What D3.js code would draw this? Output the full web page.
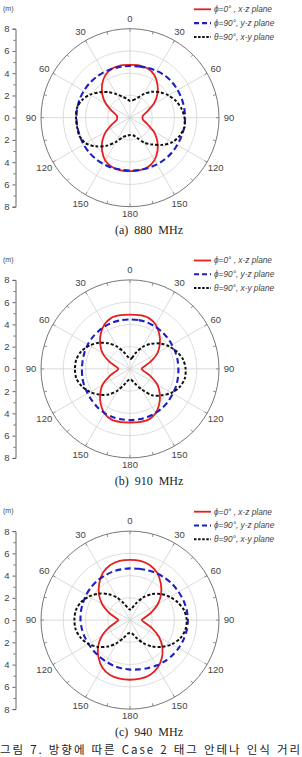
<!DOCTYPE html>
<html lang="ko">
<head>
<meta charset="UTF-8">
<title>방향에 따른 인식 거리</title>
<script src="https://cdn.jsdelivr.net/npm/d3@7"></script>
<style>
  body{margin:0;background:#fff;}
  svg{display:block;}
  .lbl{font-family:"Liberation Sans",Arial,sans-serif;fill:#444;}
  .axis .domain{stroke:#666;}
  .axis line{stroke:#666;}
  .axis text{font-family:"Liberation Sans",Arial,sans-serif;fill:#444;font-size:9.5px;}
</style>
</head>
<body>
<svg width="302" height="757"></svg>
<script>
// angle in degrees, 0 at top, clockwise
var angles = d3.range(0, 360, 10);

// reading distance (m)
var red880   = [4.75,4.78,4.7,4.4,3.85,3.2,2.45,1.65,1.2,1.12,1.2,1.65,2.45,3.2,3.85,4.4,4.72,4.8,
                4.8,4.8,4.72,4.45,3.9,3.25,2.5,1.7,1.22,1.15,1.22,1.7,2.5,3.25,3.9,4.42,4.7,4.78];
var blue880  = [4.65,4.68,4.75,4.85,4.92,4.95,4.95,4.95,4.95,4.95,4.95,4.92,4.9,4.9,4.88,4.85,4.8,4.78,
                4.75,4.75,4.78,4.8,4.82,4.82,4.82,4.8,4.8,4.82,4.82,4.82,4.8,4.78,4.75,4.72,4.68,4.65];
var black880 = [1.5,1.6,1.87,2.45,3.05,3.55,4.0,4.4,4.7,4.9,4.97,4.75,4.4,3.8,3.15,2.6,1.95,1.6,
                1.56,1.65,1.85,2.5,3.3,4.0,4.6,4.83,4.83,4.85,4.85,4.6,4.15,3.55,3.0,2.45,2.0,1.75];

var red910   = [4.88,4.9,4.88,4.6,4.1,3.5,2.85,2.0,1.3,1.05,1.3,2.0,2.85,3.5,4.1,4.6,4.85,4.85,
                4.82,4.85,4.85,4.6,4.1,3.5,2.85,2.0,1.3,1.05,1.3,2.0,2.85,3.5,4.1,4.6,4.88,4.9];
var blue910  = [4.45,4.45,4.45,4.42,4.4,4.38,4.35,4.35,4.35,4.35,4.38,4.42,4.45,4.5,4.55,4.58,4.6,4.6,
                4.6,4.6,4.6,4.58,4.52,4.45,4.4,4.38,4.35,4.32,4.32,4.35,4.38,4.4,4.42,4.45,4.45,4.45];
var black910 = [0.9,1.0,1.55,2.3,2.95,3.55,4.05,4.5,4.85,5.0,5.0,4.75,4.3,3.7,3.1,2.15,1.45,1.05,
                0.95,1.05,1.5,2.25,3.0,3.6,4.15,4.6,4.9,4.95,4.9,4.65,4.2,3.65,3.0,2.3,1.6,1.1];

var red940   = [5.42,5.4,5.25,4.9,4.3,3.65,2.9,2.05,1.35,1.05,1.35,2.1,3.0,3.8,4.45,4.95,5.25,5.35,
                5.36,5.35,5.25,4.95,4.4,3.75,2.95,2.05,1.35,1.05,1.35,2.05,2.9,3.65,4.3,4.9,5.25,5.4];
var blue940  = [4.65,4.68,4.75,4.85,4.92,5.0,5.05,5.12,5.18,5.2,5.18,5.12,5.05,4.95,4.85,4.72,4.6,4.5,
                4.45,4.4,4.35,4.3,4.28,4.28,4.3,4.35,4.4,4.45,4.48,4.5,4.55,4.58,4.6,4.6,4.62,4.63];
var black940 = [0.95,1.1,1.6,2.35,3.05,3.65,4.15,4.6,4.95,5.1,5.05,4.8,4.35,3.75,3.1,2.4,1.7,1.25,
                1.15,1.25,1.7,2.4,3.1,3.75,4.3,4.7,4.95,5.0,4.95,4.7,4.25,3.7,3.05,2.35,1.6,1.1];

var captions = ["(a)  880  MHz", "(b)  910  MHz", "(c)  940  MHz"];
var legendLabels = ["\u03d5=0\u00b0 , x-z plane", "\u03d5=90\u00b0, y-z plane", "\u03b8=90\u00b0, x-y plane"];
var radialTicks = [-8,-6,-4,-2,0,2,4,6,8];
var angleTicks = d3.range(0, 360, 30);
var figTitle = "그림 7. 방향에 따른 Case 2 태그 안테나 인식 거리";

var panels = [
    {red: red880, blue: blue880, black: black880, cap: captions[0]},
    {red: red910, blue: blue910, black: black910, cap: captions[1]},
    {red: red940, blue: blue940, black: black940, cap: captions[2]}
];

var styles = [
    {color:'#e3201f', width:1.8, dash:null,    legDash:null},
    {color:'#1c1fc2', width:2.1, dash:'6,3.5', legDash:'5,3'},
    {color:'#111',    width:2,   dash:'3,2',   legDash:'2.5,1.6'}
];

var svg = d3.select('svg');
var R = 89, cx = 130;
var r = d3.scaleLinear().domain([0,8]).range([0,R]);

var line = d3.lineRadial()
    .angle(function(d){ return d[0] * Math.PI / 180; })
    .radius(function(d){ return r(d[1]); })
    .curve(d3.curveCardinalClosed.tension(0.2));

panels.forEach(function(p, i){
    var cy = 117.7 + i * 251.2;
    var g = svg.append('g');
    var pg = g.append('g').attr('transform','translate('+cx+','+cy+')');

    // grid circles
    pg.selectAll('circle.grid').data([2,4,6]).enter().append('circle')
        .attr('r', function(d){ return r(d); })
        .attr('fill','none').attr('stroke','#d4d4d4').attr('stroke-width',0.8);
    // spokes
    pg.selectAll('line.spoke').data(angleTicks).enter().append('line')
        .attr('x1',0).attr('y1',0)
        .attr('x2', function(d){ return R*Math.sin(d*Math.PI/180); })
        .attr('y2', function(d){ return -R*Math.cos(d*Math.PI/180); })
        .attr('stroke','#cfcfcf').attr('stroke-width',0.8);
    // outer circle
    pg.append('circle').attr('r',R).attr('fill','none').attr('stroke','#777').attr('stroke-width',1);
    // small ticks on the outer circle
    pg.selectAll('line.otick').data(d3.range(0,360,15)).enter().append('line')
        .attr('x1', function(d){ return R*Math.sin(d*Math.PI/180); })
        .attr('y1', function(d){ return -R*Math.cos(d*Math.PI/180); })
        .attr('x2', function(d){ return (R-3)*Math.sin(d*Math.PI/180); })
        .attr('y2', function(d){ return -(R-3)*Math.cos(d*Math.PI/180); })
        .attr('stroke','#777').attr('stroke-width',0.8);

    // angle labels
    pg.selectAll('text.ang').data(angleTicks).enter().append('text')
        .attr('class','lbl')
        .attr('font-size', 9.5)
        .attr('text-anchor','middle')
        .attr('dy','0.35em')
        .attr('x', function(d){ return (R+10)*Math.sin(d*Math.PI/180); })
        .attr('y', function(d){ return -(R+ (d===180 ? 7 : 10))*Math.cos(d*Math.PI/180); })
        .text(function(d){ return d <= 180 ? d : 360 - d; });

    // curves
    [p.red, p.blue, p.black].forEach(function(vals, k){
        var pts = angles.map(function(a, j){ return [a, vals[j]]; });
        pg.append('path').datum(pts)
            .attr('d', line)
            .attr('fill','none')
            .attr('stroke', styles[k].color)
            .attr('stroke-width', styles[k].width)
            .attr('stroke-dasharray', styles[k].dash);
    });

    // left radial axis
    var y = d3.scaleLinear().domain([-8,8]).range([cy+R, cy-R]);
    g.append('g').attr('class','axis')
        .attr('transform','translate(15.5,0)')
        .call(d3.axisLeft(y).tickValues(radialTicks).tickSize(3).tickPadding(3)
              .tickFormat(function(d){ return Math.abs(d); }));
    g.append('g').attr('class','axis')
        .attr('transform','translate(15.5,0)')
        .call(d3.axisLeft(y).tickValues(d3.range(-7,8,2)).tickSize(2).tickFormat(''))
        .select('.domain').remove();
    g.append('text').attr('class','lbl')
        .attr('x',3).attr('y',cy-107).attr('font-size',7)
        .text('(m)');

    // legend
    var leg = g.selectAll('g.leg').data(legendLabels).enter().append('g')
        .attr('transform', function(d,k){ return 'translate(0,'+(cy-108.4+k*13.8)+')'; });
    leg.append('line')
        .attr('x1',194).attr('x2',211).attr('y1',0).attr('y2',0)
        .attr('stroke', function(d,k){ return styles[k].color; })
        .attr('stroke-width', function(d,k){ return styles[k].width; })
        .attr('stroke-dasharray', function(d,k){ return styles[k].legDash; });
    leg.append('text').attr('class','lbl')
        .attr('x',214).attr('dy','0.35em')
        .attr('font-size',8.3).attr('font-style','italic')
        .text(function(d){ return d; });

    // caption
    g.append('text')
        .attr('x',149).attr('y',cy+116)
        .attr('text-anchor','middle')
        .attr('font-family','"Liberation Serif","Times New Roman",serif')
        .attr('font-size',12)
        .style('white-space','pre')
        .attr('fill','#222')
        .text(p.cap);
});

svg.append('text')
    .attr('x',0).attr('y',754)
    .attr('font-family','"Noto Sans CJK KR",sans-serif')
    .attr('font-size',11.5)
    .attr('fill','#222')
    .attr('textLength',300).attr('lengthAdjust','spacing')
    .text(figTitle);
</script>
</body>
</html>
